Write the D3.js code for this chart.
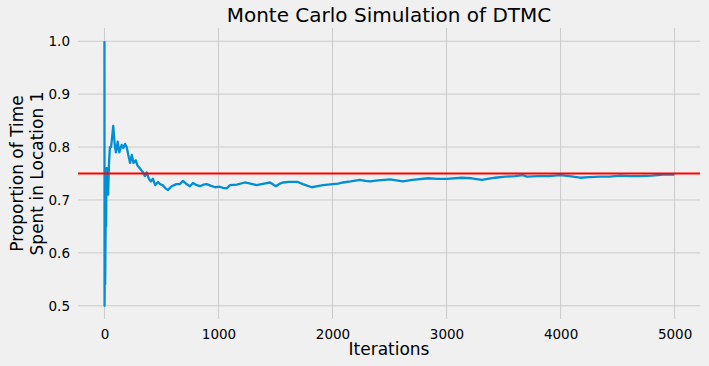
<!DOCTYPE html>
<html>
<head>
<meta charset="utf-8">
<script src="https://cdn.jsdelivr.net/npm/d3@7"></script>
<style>
  html, body { margin: 0; padding: 0; background: #f0f0f0; }
  svg { display: block; font-family: "DejaVu Sans", sans-serif; }
</style>
</head>
<body>
<svg width="709" height="366"></svg>
<script>
// values (iteration, running proportion)
const iterations = [0, 1, 4, 6, 10, 12, 14, 18, 22, 26, 32, 40, 48, 58, 68, 77, 84, 92, 101, 116, 130,
  151, 165, 180, 195, 209, 225, 240, 255, 275, 290, 310, 335, 355, 370, 390, 408, 425, 445, 470,
  487, 510, 540, 557, 590, 630, 660, 689, 720, 750, 776, 810, 838, 870, 896, 930, 971, 1010, 1040,
  1072, 1101, 1160, 1232, 1280, 1335, 1400, 1452, 1504, 1540, 1566, 1620, 1697, 1740, 1818, 1870,
  1917, 2004, 2050, 2092, 2160, 2241, 2290, 2329, 2400, 2504, 2560, 2618, 2700, 2838, 2920, 3002,
  3133, 3220, 3309, 3425, 3513, 3600, 3671, 3704, 3800, 3900, 3996, 4080, 4171, 4250, 4346, 4430,
  4522, 4610, 4697, 4800, 4900, 4999]
const proportion = [1.0, 0.5, 0.6, 0.54, 0.64, 0.69, 0.65, 0.76, 0.73, 0.76, 0.71, 0.77, 0.80, 0.80,
  0.82, 0.84, 0.82, 0.80, 0.79, 0.81, 0.79, 0.804, 0.798, 0.806, 0.80, 0.785, 0.77, 0.785, 0.77,
  0.775, 0.765, 0.76, 0.753, 0.745, 0.752, 0.74, 0.735, 0.74, 0.728, 0.734, 0.730, 0.728, 0.721,
  0.719, 0.726, 0.73, 0.73, 0.736, 0.73, 0.726, 0.732, 0.728, 0.726, 0.729, 0.730, 0.727, 0.724,
  0.725, 0.723, 0.722, 0.728, 0.729, 0.733, 0.731, 0.728, 0.731, 0.733, 0.726, 0.731, 0.733, 0.734,
  0.734, 0.730, 0.724, 0.726, 0.728, 0.730, 0.731, 0.733, 0.735, 0.738, 0.736, 0.735, 0.737, 0.739,
  0.737, 0.735, 0.738, 0.741, 0.740, 0.740, 0.742, 0.741, 0.738, 0.742, 0.744, 0.745, 0.747, 0.744,
  0.745, 0.745, 0.747, 0.745, 0.742, 0.743, 0.744, 0.744, 0.746, 0.745, 0.745, 0.746, 0.748, 0.748]
const steadyState = 0.75
const xTicks = [0, 1000, 2000, 3000, 4000, 5000]
const yTicks = [0.5, 0.6, 0.7, 0.8, 0.9, 1.0]

const svg = d3.select("svg"),
    margin = {top: 28, right: 9, bottom: 47, left: 78},
    width = svg.attr("width") - margin.left - margin.right,
    height = svg.attr("height") - margin.top - margin.bottom,
    g = svg.append("g").attr("transform", "translate(" + margin.left + "," + margin.top + ")")

const x = d3.scaleLinear().domain([-232, 5223]).range([0, width])
const y = d3.scaleLinear().domain([0.475, 1.025]).range([height, 0])

// grid
g.append("g").selectAll("line").data(xTicks).enter().append("line")
  .attr("x1", d => x(d)).attr("x2", d => x(d))
  .attr("y1", 0).attr("y2", height)
  .attr("stroke", "#cbcbcb").attr("stroke-width", 1)
g.append("g").selectAll("line").data(yTicks).enter().append("line")
  .attr("y1", d => y(d)).attr("y2", d => y(d))
  .attr("x1", 0).attr("x2", width)
  .attr("stroke", "#cbcbcb").attr("stroke-width", 1)

// axes without lines, just labels
const xAxis = g.append("g")
  .attr("transform", "translate(0," + height + ")")
  .call(d3.axisBottom(x).tickValues(xTicks).tickSize(0).tickPadding(10).tickFormat(d3.format("d")))
const yAxis = g.append("g")
  .call(d3.axisLeft(y).tickValues(yTicks).tickSize(0).tickPadding(8).tickFormat(d3.format(".1f")))
;[xAxis, yAxis].forEach(a => {
  a.select(".domain").remove()
  a.selectAll("text").attr("font-size", 13.5).attr("fill", "#000").attr("font-family", "DejaVu Sans")
})

// series
const data = iterations.map((it, i) => ({it: it, v: proportion[i]}))
g.append("path")
  .datum(data)
  .attr("fill", "none")
  .attr("stroke", "#008fd5")
  .attr("stroke-width", 2.3)
  .attr("stroke-linejoin", "round")
  .attr("d", d3.line().x(d => x(d.it)).y(d => y(d.v)))

g.append("line")
  .attr("x1", 0).attr("x2", width)
  .attr("y1", y(steadyState)).attr("y2", y(steadyState))
  .attr("stroke", "#ff0000").attr("stroke-width", 2.2)

// titles
svg.append("text")
  .attr("x", margin.left + width / 2).attr("y", 22)
  .attr("text-anchor", "middle").attr("font-size", 20)
  .text("Monte Carlo Simulation of DTMC")

svg.append("text")
  .attr("x", margin.left + width / 2).attr("y", 355)
  .attr("text-anchor", "middle").attr("font-size", 17)
  .text("Iterations")

const ylab = svg.append("text")
  .attr("transform", "translate(23," + (margin.top + height / 2) + ") rotate(-90)")
  .attr("text-anchor", "middle").attr("font-size", 17)
ylab.append("tspan").attr("x", 0).attr("dy", "0em").text("Proportion of Time")
ylab.append("tspan").attr("x", 0).attr("dy", "1.17em").text("Spent in Location 1")
</script>
</body>
</html>
